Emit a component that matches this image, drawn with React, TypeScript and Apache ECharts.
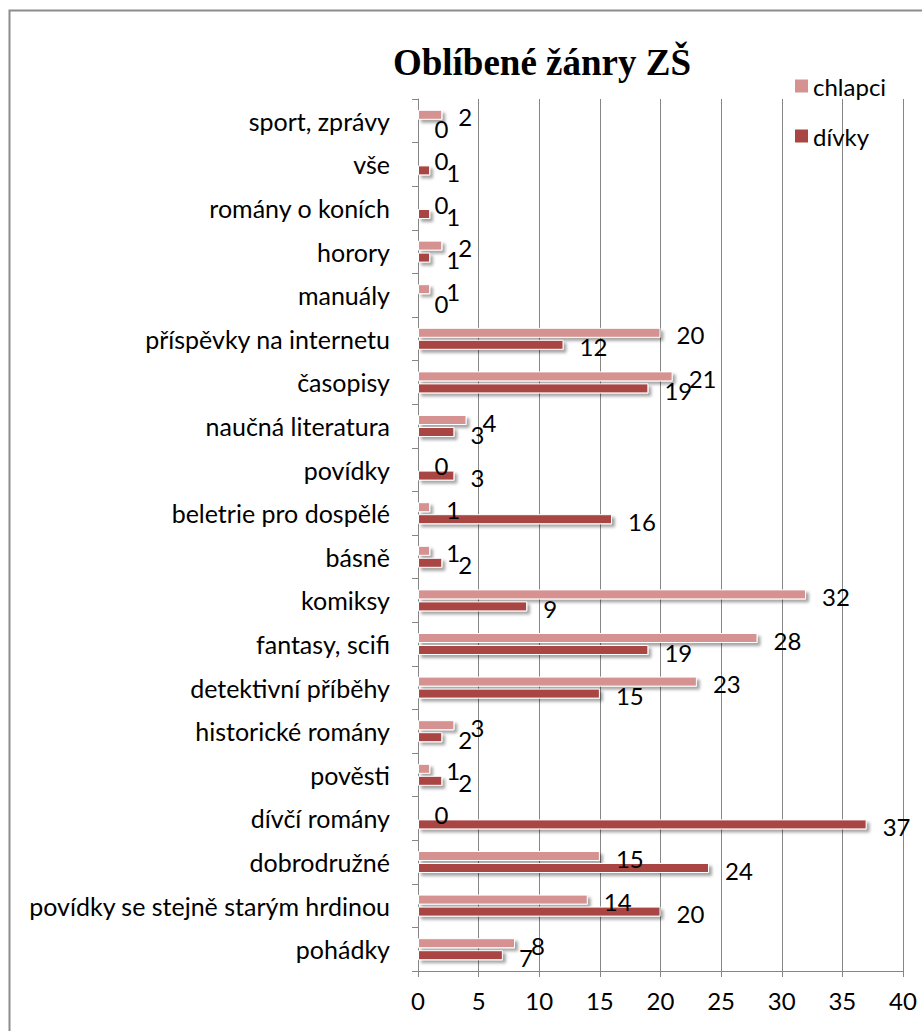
import React, { useEffect, useRef } from "react";
import * as echarts from "echarts";

const categories = [
  "pohádky",
  "povídky se stejně starým hrdinou",
  "dobrodružné",
  "dívčí romány",
  "pověsti",
  "historické romány",
  "detektivní příběhy",
  "fantasy, scifi",
  "komiksy",
  "básně",
  "beletrie pro dospělé",
  "povídky",
  "naučná literatura",
  "časopisy",
  "příspěvky na internetu",
  "manuály",
  "horory",
  "romány o koních",
  "vše",
  "sport, zprávy",
];

const chlapci = [8, 14, 15, 0, 1, 3, 23, 28, 32, 1, 1, 0, 4, 21, 20, 1, 2, 0, 0, 2];
const divky = [7, 20, 24, 37, 2, 2, 15, 19, 9, 2, 16, 3, 3, 19, 12, 0, 1, 1, 1, 0];

const xTicks = [0, 5, 10, 15, 20, 25, 30, 35, 40];

const FONT = "Lato";
const FS = 24;

export default function App() {
  const ref = useRef<HTMLDivElement>(null);
  useEffect(() => {
    if (!ref.current) return;
    const chart = echarts.init(ref.current, null, { renderer: "svg" });
    const barStyle = (color: string) => ({
      color,
      borderColor: "#ffffff",
      borderWidth: 1,
      shadowColor: "rgba(0,0,0,0.35)",
      shadowBlur: 3,
      shadowOffsetX: 3,
      shadowOffsetY: 3,
    });
    const label = {
      show: true,
      position: "right" as const,
      distance: 16,
      offset: [0, 2],
      color: "#000",
      fontFamily: FONT,
      fontSize: FS,
    };
    chart.setOption({
      animation: false,
      backgroundColor: "#ffffff",
      title: {
        text: "Oblíbené žánry ZŠ",
        left: 537,
        top: 39,
        textAlign: "center",
        textStyle: {
          fontFamily: "Liberation Serif",
          fontWeight: "bold",
          fontSize: 37,
          color: "#000",
        },
      },
      legend: {
        data: ["chlapci", "dívky"],
        orient: "vertical",
        left: 790,
        top: 69,
        itemWidth: 13,
        itemHeight: 13,
        itemGap: 26,
        icon: "rect",
        itemStyle: {
          borderColor: "transparent",
          borderWidth: 0,
          shadowBlur: 0,
          shadowColor: "transparent",
          shadowOffsetX: 0,
          shadowOffsetY: 0,
        },
        textStyle: { fontFamily: FONT, fontSize: FS, color: "#000" },
      },
      graphic: [
        {
          type: "rect",
          shape: { x: 9.5, y: 10.5, width: 1000, height: 1100 },
          style: { fill: "none", stroke: "#8c8c8c", lineWidth: 2 },
          silent: true,
        },
      ],
      grid: { left: 418, right: 19, top: 99, bottom: 60 },
      xAxis: {
        type: "value",
        min: 0,
        max: 40,
        interval: 5,
        axisLine: { show: true, lineStyle: { color: "#868686" } },
        axisTick: { show: true, length: 6, lineStyle: { color: "#868686" } },
        splitLine: { show: true, lineStyle: { color: "#868686", width: 1 } },
        axisLabel: {
          fontFamily: FONT,
          fontSize: FS,
          color: "#000",
          margin: 17,
          formatter: (v: number) => (xTicks.includes(v) ? String(v) : ""),
        },
      },
      yAxis: {
        type: "category",
        data: categories,
        axisLine: { show: true, lineStyle: { color: "#868686" } },
        axisTick: { show: true, length: 6, lineStyle: { color: "#868686" } },
        axisLabel: {
          fontFamily: FONT,
          fontSize: 25,
          color: "#000",
          margin: 28,
        },
      },
      series: [
        {
          name: "chlapci",
          type: "bar",
          data: chlapci,
          barWidth: 10,
          barGap: "20%",
          barCategoryGap: "50%",
          itemStyle: barStyle("#D59290"),
          label,
          z: 2,
        },
        {
          name: "dívky",
          type: "bar",
          data: divky,
          barWidth: 10,
          barGap: "20%",
          barCategoryGap: "50%",
          itemStyle: barStyle("#A94543"),
          label,
          z: 2,
        },
      ],
    });
    return () => chart.dispose();
  }, []);
  return (
    <div
      ref={ref}
      style={{ position: "fixed", left: 0, top: 0, width: 922, height: 1031 }}
    />
  );
}
